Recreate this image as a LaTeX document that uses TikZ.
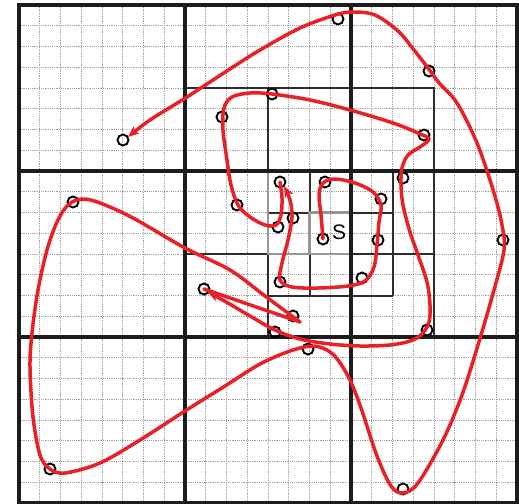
\documentclass[tikz,border=0pt]{standalone}
\usepackage{fontspec}
\usetikzlibrary{arrows.meta}
\newfontfamily\labelfont{Liberation Sans}
\definecolor{curvered}{RGB}{232,32,40}
\definecolor{finegrid}{RGB}{160,160,160}
\definecolor{thickgrid}{RGB}{28,28,28}
\definecolor{midgrid}{RGB}{45,45,45}
\definecolor{lightgrid}{RGB}{150,150,150}
\tikzset{
  fineline/.style={draw=finegrid, line width=0.7pt, dash pattern=on 1.2pt off 1pt},
  bigline/.style={draw=thickgrid, line width=4pt},
  midline/.style={draw=midgrid, line width=2.3pt},
  smallline/.style={draw=midgrid, line width=2pt},
  greyline/.style={draw=lightgrid, line width=2.8pt},
  redpath/.style={draw=curvered, line width=3.5pt, line cap=round, line join=round},
  redarrow/.style={redpath, -{Stealth[length=11pt,width=9pt,inset=2.5pt]}},
  waypt/.style={circle, draw=black, line width=1.9pt, inner sep=0pt, minimum size=11pt}
}
\begin{document}
\begin{tikzpicture}[x=1pt,y=-1pt]
\useasboundingbox (0,0) rectangle (519,503);
\fill[white] (0,0) rectangle (519,503);
% fine grid
\foreach \k in {1,...,23} {
  \draw[fineline] ({19+\k*20.75},5) -- ({19+\k*20.75},503);
  \draw[fineline] (19,{5+\k*20.75}) -- (517,{5+\k*20.75});
}
% medium level grid
\draw[midline] (185,88) -- (434,88) -- (434,337);
\draw[midline] (268,88) -- (268,171);
\draw[midline] (268,254) -- (268,337);
\draw[midline] (185,254) -- (268,254);
\draw[midline] (351,254) -- (434,254);
% small level grid
\draw[smallline] (268,212.5) -- (309.5,212.5);
\draw[smallline] (351,212.5) -- (392.5,212.5);
\draw[smallline] (309.5,171) -- (309.5,212.5);
\draw[smallline] (309.5,254) -- (309.5,295.5);
\draw[smallline] (268,295.5) -- (392.5,295.5);
\draw[smallline] (392.5,171) -- (392.5,295.5);
% grey cells
\draw[greyline] (268,171) -- (268,254) -- (351,254);
\draw[greyline] (309.5,254) -- (309.5,212.5) -- (351,212.5);
% big grid
\draw[bigline] (19,5) rectangle (517,503);
\draw[bigline] (185,5) -- (185,503);
\draw[bigline] (351,5) -- (351,503);
\draw[bigline] (19,171) -- (517,171);
\draw[bigline] (19,337) -- (517,337);

% waypoints
\node[waypt] (s)   at (323,239) {};
\node[waypt] (a1)  at (325,182) {};
\node[waypt] (a2)  at (381,199) {};
\node[waypt] (a3)  at (378,240) {};
\node[waypt] (a4)  at (362,278) {};
\node[waypt] (a5)  at (280,282) {};
\node[waypt] (a6)  at (293,218) {};
\node[waypt] (b0)  at (280,182) {};
\node[waypt] (b1)  at (278,227) {};
\node[waypt] (b2)  at (237,205) {};
\node[waypt] (b3)  at (222,117) {};
\node[waypt] (b4)  at (272,94) {};
\node[waypt] (b5)  at (424,135) {};
\node[waypt] (b6)  at (403,178) {};
\node[waypt] (b7)  at (427,330) {};
\node[waypt] (b8)  at (275,332) {};
\node[waypt] (c0)  at (204,289) {};
\node[waypt] (c1)  at (293,316) {};
\node[waypt] (c2)  at (73,202) {};
\node[waypt] (c3)  at (50,469) {};
\node[waypt] (c4)  at (308,349) {};
\node[waypt] (c5)  at (403,489) {};
\node[waypt] (c6)  at (503,240) {};
\node[waypt] (c7)  at (429,71) {};
\node[waypt] (c8)  at (338,19) {};
\node[waypt] (c9)  at (123,140) {};
\coordinate (cusp) at (300,322);

\node[font=\labelfont\fontsize{21}{21}\selectfont, inner sep=0pt] (slabel) at (339,232) {S};

% level 1 spiral
\draw[redarrow] plot[smooth, tension=0.55] coordinates {
  (s.center) (321,215) (319,195) (323,183) (335,179) (355,183) (373,192) (381,205)
  (379,222) (377,245) (374,267) (365,281) (348,286) (318,288) (292,287) (280,280)
  (282,263) (288,240) (292,217) (290,200) (284,186)};
% level 2 spiral
\draw[redarrow] plot[smooth, tension=0.55] coordinates {
  (b0.center) (282,198) (281,215) (276,225) (265,225) (250,217) (238,205) (231,185)
  (227,160) (223,130) (224,108) (232,97) (250,93) (272,94) (310,100) (350,110)
  (393,123) (418,133) (429,139) (420,147) (408,155) (402,168) (401,185) (403,205)
  (410,232) (418,255) (427,282) (430,305) (429,322) (422,334) (410,341) (390,345)
  (360,346) (330,344) (300,339) (275,330) (250,316) (228,303) (208,292)};
% level 3 spiral
\draw[redpath] (c0.center) -- (cusp);
\draw[redarrow] plot[smooth, tension=0.55] coordinates {
  (cusp) (265,296) (230,270) (185,248) (133,218) (100,203) (82,199) (68,205)
  (57,222) (47,250) (38,290) (32,333) (30,367) (33,417) (40,455) (50,469) (65,473)
  (100,463) (140,440) (185,411) (225,386) (260,364) (290,351) (312,346) (327,350)
  (338,360) (350,380) (361,408) (377,456) (391,486) (403,493) (418,483) (443,440)
  (462,395) (478,345) (494,290) (504,250) (502,225) (494,193) (477,143) (457,103)
  (440,84) (428,68) (414,50) (398,31) (375,15) (353,12) (335,15) (300,28) (260,50)
  (233,67) (187,97) (150,120) (128,137)};
\end{tikzpicture}
\end{document}
